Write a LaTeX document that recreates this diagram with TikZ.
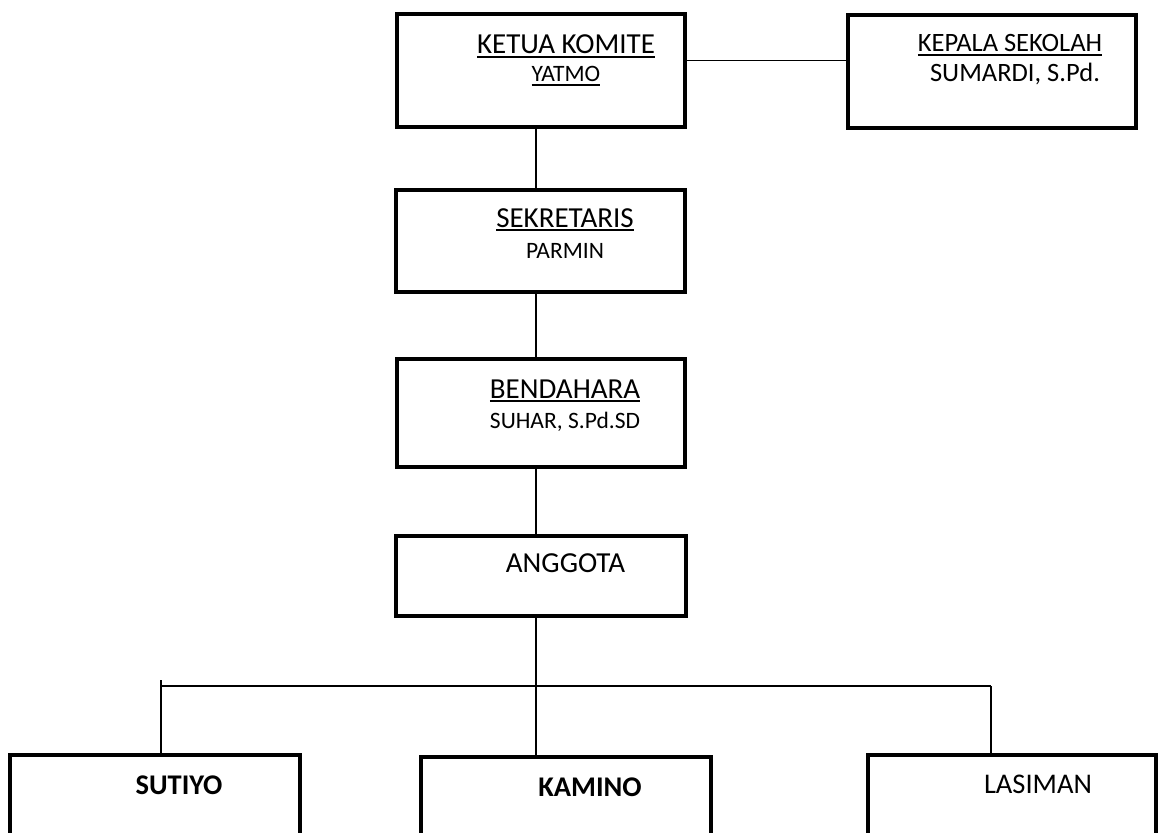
\documentclass[tikz,border=0pt]{standalone}
\usepackage{fontspec}
\setmainfont{Carlito}
\newcommand\ulx[1]{\setbox0\hbox{#1}\rlap{\rule[-3.6pt]{\wd0}{1.8pt}}\box0}
\begin{document}
\begin{tikzpicture}[x=1pt,y=-1pt,
  orgbox/.style={draw, line width=4pt, rectangle, inner sep=0pt, outer sep=0pt},
  conn/.style={line width=1.6pt},
  lbl/.style={anchor=base, inner sep=0pt, outer sep=0pt},
  big/.style={font=\fontsize{29}{34}\selectfont},
  small/.style={font=\fontsize{23.5}{28}\selectfont},
  mid/.style={font=\fontsize{26.5}{31}\selectfont},
  bot/.style={font=\fontsize{28.5}{33}\selectfont}]
\useasboundingbox (0,0) rectangle (1161,832);
\clip (0,0) rectangle (1161,832);

% boxes
\node[orgbox, minimum width=288.5pt, minimum height=112.5pt] (ketua) at (540.75,70.75) {};
\node[orgbox, minimum width=288pt, minimum height=112.5pt] (kepala) at (991.5,71.75) {};
\node[orgbox, minimum width=289pt, minimum height=102.5pt] (sek) at (540.5,240.75) {};
\node[orgbox, minimum width=288pt, minimum height=108pt] (ben) at (541,413) {};
\node[orgbox, minimum width=290pt, minimum height=80pt] (ang) at (541,576) {};
\node[orgbox, minimum width=290pt, minimum height=130pt] (sut) at (155,820) {};
\node[orgbox, minimum width=290pt, minimum height=130pt] (kam) at (566,822) {};
\node[orgbox, minimum width=288pt, minimum height=130pt] (las) at (1012,820) {};

% texts
\node[lbl, big] (t1) at (566,54) {\ulx{KETUA KOMITE}};
\node[lbl, small] (t1b) at (566,82) {\ulx{YATMO}};
\node[lbl, mid] (t2) at (1010,52) {\ulx{KEPALA SEKOLAH}};
\node[lbl, mid] (t2b) at (1015,82) {SUMARDI, S.Pd.};
\node[lbl, big] (t3) at (565,227) {\ulx{SEKRETARIS}};
\node[lbl, small] (t3b) at (565,258) {PARMIN};
\node[lbl, big] (t4) at (565,398) {\ulx{BENDAHARA}};
\node[lbl, small] (t4b) at (565,428) {SUHAR, S.Pd.SD};
\node[lbl, big] (t5) at (565.5,572) {ANGGOTA};
\node[lbl, bot] (t6) at (179,794) {\bfseries SUTIYO};
\node[lbl, bot] (t7) at (590,796) {\bfseries KAMINO};
\node[lbl, bot] (t8) at (1038,793) {LASIMAN};

% connector helpers
\coordinate (trunk) at (536,0);
\coordinate (hy) at (0,60.7);
\coordinate (busL) at (160.7,686);
\coordinate (busR) at (990.7,686);
\coordinate (ltop) at (160.7,680);

% connectors
\draw[conn] (ketua.east |- hy) -- (kepala.west |- hy);
\draw[conn] (ketua.south -| trunk) -- (sek.north -| trunk);
\draw[conn] (sek.south -| trunk) -- (ben.north -| trunk);
\draw[conn] (ben.south -| trunk) -- (ang.north -| trunk);
\draw[conn] (ang.south -| trunk) -- (kam.north -| trunk);
\draw[conn] (busL) -- (busR);
\draw[conn] (ltop) -- (sut.north -| ltop);
\draw[conn] (busR) -- (las.north -| busR);
\end{tikzpicture}
\end{document}
